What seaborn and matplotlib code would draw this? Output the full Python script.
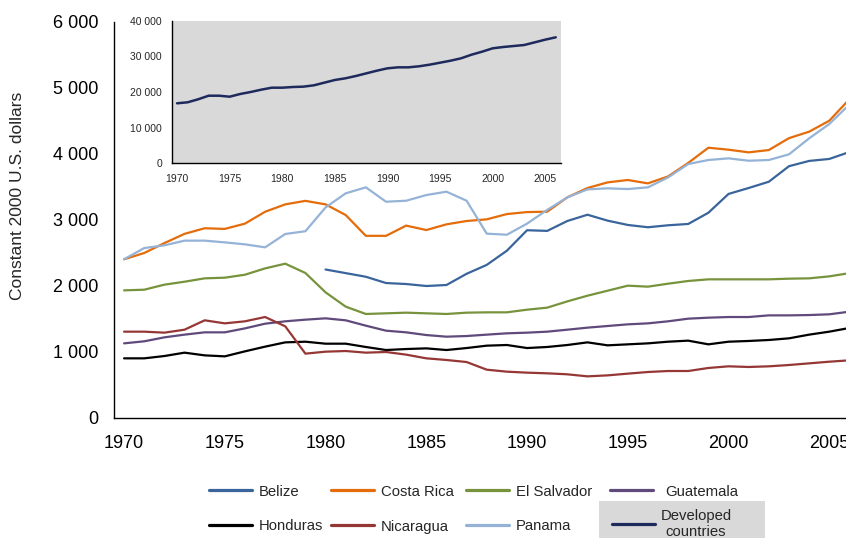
import numpy as np
import pandas as pd
import matplotlib
matplotlib.use("Agg")
import matplotlib.pyplot as plt
from matplotlib.lines import Line2D
from matplotlib.patches import Rectangle
from matplotlib.ticker import FuncFormatter
import seaborn as sns

sns.set_theme(style="white")
plt.rcParams["font.family"] = ["Liberation Sans", "DejaVu Sans"]

# --- data ---
years = np.arange(1970, 2007)

belize = [np.nan] * 10 + [
    2250, 2195, 2140, 2045, 2030, 2000, 2015, 2185, 2320, 2535,
    2845, 2835, 2985, 3080, 2990, 2925, 2890, 2920, 2940, 3110,
    3395, 3485, 3580, 3815, 3895, 3925, 4030]
costa_rica = [
    2405, 2500, 2650, 2790, 2875, 2865, 2945, 3125, 3237, 3290,
    3237, 3075, 2760, 2760, 2915, 2848, 2934, 2985, 3010, 3090,
    3120, 3126, 3343, 3485, 3570, 3606, 3555, 3660, 3865, 4095,
    4065, 4025, 4060, 4240, 4338, 4504, 4830]
el_salvador = [
    1934, 1944, 2020, 2065, 2116, 2126, 2171, 2267, 2338, 2197,
    1904, 1687, 1576, 1586, 1596, 1586, 1576, 1596, 1601, 1601,
    1641, 1672, 1767, 1853, 1929, 2005, 1990, 2035, 2076, 2101,
    2101, 2101, 2101, 2111, 2116, 2146, 2195]
guatemala = [
    1131, 1162, 1222, 1263, 1298, 1298, 1358, 1429, 1465, 1490,
    1510, 1480, 1399, 1323, 1298, 1257, 1232, 1242, 1263, 1283,
    1293, 1308, 1338, 1369, 1394, 1419, 1434, 1465, 1505, 1520,
    1530, 1530, 1555, 1555, 1560, 1571, 1611]
honduras = [
    904, 904, 939, 990, 949, 934, 1010, 1081, 1146, 1156,
    1126, 1126, 1076, 1030, 1045, 1055, 1030, 1060, 1096, 1106,
    1060, 1076, 1106, 1146, 1101, 1116, 1131, 1156, 1172, 1116,
    1156, 1167, 1182, 1207, 1263, 1308, 1364]
nicaragua = [
    1308, 1308, 1293, 1338, 1480, 1434, 1465, 1530, 1389, 975,
    1005, 1015, 990, 1000, 960, 904, 879, 848, 732, 702,
    687, 677, 662, 631, 646, 672, 697, 712, 712, 758,
    783, 773, 783, 803, 828, 853, 874]
panama = [
    2405, 2575, 2616, 2687, 2687, 2661, 2631, 2586, 2788, 2830,
    3190, 3404, 3495, 3277, 3292, 3378, 3429, 3292, 2793, 2777,
    2945, 3153, 3343, 3464, 3480, 3469, 3495, 3645, 3848, 3909,
    3934, 3898, 3909, 3995, 4237, 4454, 4750]
developed = [
    16830, 17110, 17950, 18960, 18960, 18680, 19440, 20000, 20650, 21210,
    21210, 21400, 21500, 21870, 22620, 23370, 23840, 24490, 25240, 25980,
    26640, 26920, 26920, 27210, 27660, 28220, 28780, 29450, 30470, 31310,
    32250, 32620, 32900, 33180, 33930, 34680, 35340]

countries = ["Belize", "Costa Rica", "El Salvador", "Guatemala",
             "Honduras", "Nicaragua", "Panama"]
series = [belize, costa_rica, el_salvador, guatemala, honduras, nicaragua, panama]

colors = {
    "Belize": "#3a649c",
    "Costa Rica": "#e46c0a",
    "El Salvador": "#77933c",
    "Guatemala": "#604a7b",
    "Honduras": "#000000",
    "Nicaragua": "#953735",
    "Panama": "#95b3d7",
}
dev_color = "#1f2a5c"
dev_label = "Developed\ncountries"

df = pd.concat(
    [pd.DataFrame({"year": years, "country": c, "gdp": v}) for c, v in zip(countries, series)],
    ignore_index=True,
).dropna()
# Excel-style category axis: points sit in the middle of each year slot
df["pos"] = df["year"] + 0.5

W, H = 846, 538
fig = plt.figure(figsize=(W / 100, H / 100), dpi=100)

def fx(x):
    return x / W

def fy(y):
    return 1 - y / H

thousands = FuncFormatter(lambda v, p: f"{v:,.0f}".replace(",", " "))

# --- main chart ---
ax = fig.add_axes([fx(114), fy(418), fx(846) - fx(114), fy(22) - fy(418)])
sns.lineplot(data=df, x="pos", y="gdp", hue="country", hue_order=countries,
             palette=colors, estimator=None, legend=False, lw=1.6, ax=ax)
ax.set_xlim(1970, 2006.33)
ax.set_ylim(0, 6000)
ax.set_xlabel("")
ax.set_ylabel("")

tick_years = years[::5]
ax.set_xticks(tick_years)
ax.set_xticklabels([""] * len(tick_years))
ax.set_xticks(tick_years + 0.5, minor=True)
ax.set_xticklabels([str(y) for y in tick_years], minor=True)
ax.set_yticks(np.arange(0, 6001, 1000))
ax.yaxis.set_major_formatter(thousands)
ax.tick_params(axis="x", which="major", length=4, width=1, direction="out", color="black")
ax.tick_params(axis="x", which="minor", length=0, pad=12, labelsize=13)
ax.tick_params(axis="y", length=4, width=1, direction="out", pad=7, labelsize=13, color="black")
ax.tick_params(colors="black", which="both")
for s in ["top", "right"]:
    ax.spines[s].set_visible(False)
for s in ["left", "bottom"]:
    ax.spines[s].set_color("black")
    ax.spines[s].set_linewidth(1)

fig.text(fx(18), fy(195.5), "Constant 2000 U.S. dollars", rotation=90,
         ha="center", va="center", fontsize=12.5)

# --- inset: developed countries ---
ins = fig.add_axes([fx(171.8), fy(163.3), fx(561) - fx(171.8), fy(20.7) - fy(163.3)])
ins.set_facecolor("#d9d9d9")
sns.lineplot(x=years + 0.5, y=developed, color=dev_color, lw=1.8, ax=ins)
ins.set_xlim(1970, 2007)
ins.set_ylim(0, 40000)
ins.set_xticks(tick_years)
ins.set_xticklabels([""] * len(tick_years))
ins.set_xticks(tick_years + 0.5, minor=True)
ins.set_xticklabels([str(y) for y in tick_years], minor=True)
ins.set_yticks(np.arange(0, 40001, 10000))
ins.yaxis.set_major_formatter(thousands)
ins.tick_params(axis="x", which="major", length=2.5, width=1, direction="out", color="black")
ins.tick_params(axis="x", which="minor", length=0, pad=8, labelsize=7.5)
ins.tick_params(axis="y", length=2.5, width=1, direction="out", pad=4.5, labelsize=7.5, color="black")
for s in ["top", "right"]:
    ins.spines[s].set_visible(False)
for s in ["left", "bottom"]:
    ins.spines[s].set_color("black")
    ins.spines[s].set_linewidth(1)

# --- legend, laid out like the original two rows ---
fig.add_artist(Rectangle((fx(598.5), 0), fx(764.5) - fx(598.5), fy(500.5),
                         transform=fig.transFigure, facecolor="#d9d9d9",
                         edgecolor="none", zorder=0))

legend_cells = [
    (209, 259, 490), (331, 381, 490), (466, 516, 490), (610, 665, 490),
    (209, 259, 525), (331, 381, 525), (466, 516, 525),
]
for name, (hx, tx, y) in zip(countries, legend_cells):
    fig.add_artist(Line2D([fx(hx), fx(hx + 43)], [fy(y), fy(y)],
                          transform=fig.transFigure, color=colors[name], lw=2.3))
    fig.text(fx(tx), fy(y), name, ha="left", va="center_baseline", fontsize=10.7)

fig.add_artist(Line2D([fx(612), fx(655)], [fy(524), fy(524)],
                      transform=fig.transFigure, color=dev_color, lw=2.3))
fig.text(fx(696), fy(524), dev_label, ha="center", va="center",
         multialignment="center", fontsize=10.7)

fig.savefig("out.png", dpi=100)
